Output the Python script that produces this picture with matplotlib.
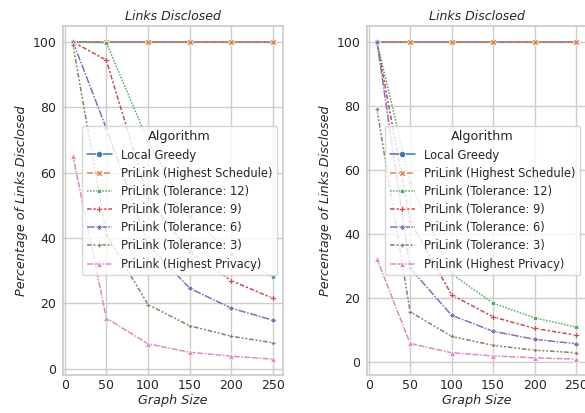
"""
Links disclosed vs graph size, two panels.
"""
import matplotlib
matplotlib.use("Agg")
import matplotlib.pyplot as plt
import pandas as pd
import seaborn as sns

sizes = [10, 50, 100, 150, 200, 250]
algorithms = ["Local Greedy", "PriLink (Highest Schedule)", "PriLink (Tolerance: 12)",
              "PriLink (Tolerance: 9)", "PriLink (Tolerance: 6)", "PriLink (Tolerance: 3)",
              "PriLink (Highest Privacy)"]

# left panel
left_greedy = [100, 100, 100, 100, 100, 100]
left_schedule = [100, 100, 100, 100, 100, 100]
left_tol12 = [100, 99.7, 69.7, 46.8, 35.0, 28.0]
left_tol9 = [100, 94.4, 52.3, 35.6, 26.9, 21.5]
left_tol6 = [100, 73.5, 38.0, 24.6, 18.5, 14.8]
left_tol3 = [99.0, 41.0, 19.6, 13.1, 9.9, 7.9]
left_privacy = [65.0, 15.4, 7.6, 5.0, 3.8, 2.9]

# right panel
right_greedy = [100, 100, 100, 100, 100, 100]
right_schedule = [100, 100, 100, 100, 100, 100]
right_tol12 = [100, 56.2, 27.5, 18.4, 13.8, 10.9]
right_tol9 = [100, 44.0, 21.0, 14.1, 10.5, 8.4]
right_tol6 = [100, 29.3, 14.6, 9.6, 7.1, 5.7]
right_tol3 = [79.0, 15.7, 8.0, 5.2, 3.7, 2.9]
right_privacy = [32.2, 5.8, 2.9, 1.9, 1.3, 0.9]


def make_frame(series):
    rows = []
    for name, values in zip(algorithms, series):
        for size, v in zip(sizes, values):
            rows.append({"Graph Size": size, "Value": v, "Algorithm": name})
    return pd.DataFrame(rows)


left_df = make_frame([left_greedy, left_schedule, left_tol12, left_tol9,
                      left_tol6, left_tol3, left_privacy])
right_df = make_frame([right_greedy, right_schedule, right_tol12, right_tol9,
                       right_tol6, right_tol3, right_privacy])

sns.set_theme(style="whitegrid")
plt.rcParams["lines.linewidth"] = 1.1
plt.rcParams["lines.markersize"] = 4.5

fig = plt.figure(figsize=(5.85, 4.13), dpi=100)
ax1 = fig.add_axes([63 / 585, 38 / 413, 220 / 585, 349 / 413])
ax2 = fig.add_axes([367 / 585, 38 / 413, 219 / 585, 349 / 413])

for ax, df in [(ax1, left_df), (ax2, right_df)]:
    sns.lineplot(data=df, x="Graph Size", y="Value", hue="Algorithm",
                 style="Algorithm", markers=True, dashes=True, ax=ax,
                 markeredgewidth=0.5)
    ax.set_title("Links Disclosed", fontstyle="italic", fontsize=9, pad=4)
    ax.set_xlabel("Graph Size", fontstyle="italic", fontsize=9.2, labelpad=1)
    ax.set_ylabel("Percentage of Links Disclosed", fontstyle="italic",
                  fontsize=9.2, labelpad=3)
    ax.set_xticks([0, 50, 100, 150, 200, 250])
    ax.set_yticks([0, 20, 40, 60, 80, 100])
    ax.tick_params(axis="x", length=0, pad=3, labelsize=9)
    ax.tick_params(axis="y", length=0, pad=5, labelsize=9)
    ax.legend(title="Algorithm", loc="center right", fontsize=8.3,
              title_fontsize=9.2, labelspacing=0.45, handlelength=2.2)

fig.savefig("out.png", dpi=100)
